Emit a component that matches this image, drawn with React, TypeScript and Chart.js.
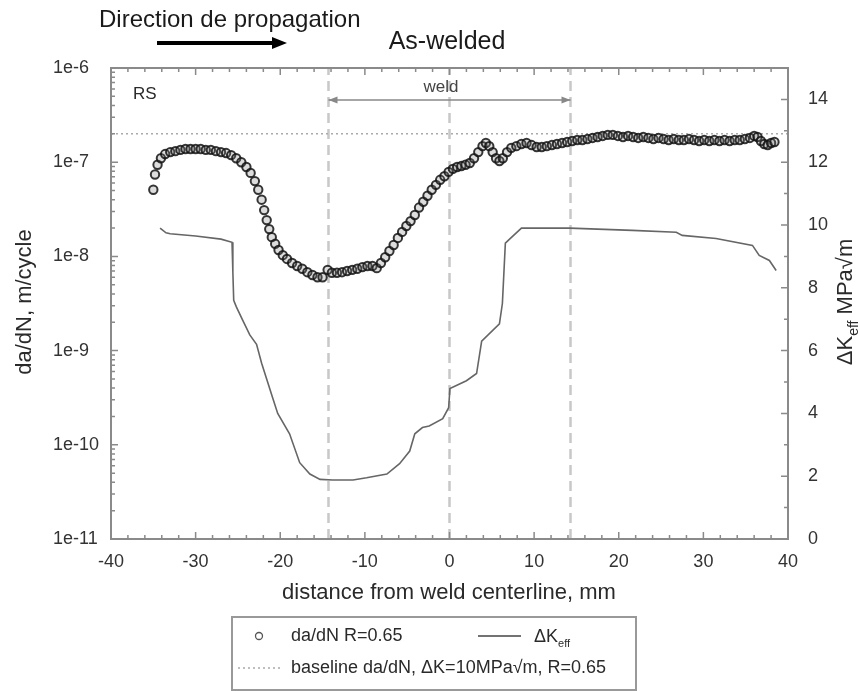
import React, { useEffect, useRef } from "react";
import { Chart, registerables } from "chart.js";
Chart.register(...registerables);

const FONT = "'Liberation Sans', Arial, Helvetica, sans-serif";

// x range / ticks
const X_MIN = -40;
const X_MAX = 40;
const xTicks = [-40, -30, -20, -10, 0, 10, 20, 30, 40];
const xTickLabels = ["-40", "-30", "-20", "-10", "0", "10", "20", "30", "40"];

// left (log) axis
const Y_MIN = 1e-11;
const Y_MAX = 1e-6;
const yTicks = [1e-11, 1e-10, 1e-9, 1e-8, 1e-7, 1e-6];
const yTickLabels = ["1e-11", "1e-10", "1e-9", "1e-8", "1e-7", "1e-6"];

// right axis
const Y1_MIN = 0;
const Y1_MAX = 15;
const y1Ticks = [0, 2, 4, 6, 8, 10, 12, 14];
const y1TickLabels = ["0", "2", "4", "6", "8", "10", "12", "14"];

// da/dN R=0.65 (circles)
const dadnX = [
  -35.0, -34.8, -34.5, -34.1, -33.6, -33.0, -32.4, -31.8, -31.2, -30.6, -30.0, -29.4, -28.8, -28.2, -27.6,
  -27.0, -26.4, -25.8, -25.2, -24.6, -24.0, -23.5, -23.0, -22.6, -22.2, -21.9, -21.6, -21.3, -21.0, -20.6,
  -20.2, -19.7, -19.2, -18.6, -18.0, -17.4, -16.8, -16.2, -15.6, -15.0, -14.4, -13.9, -13.3, -12.7, -12.1,
  -11.5, -10.9, -10.3, -9.7, -9.1, -8.6, -8.1, -7.6, -7.1, -6.6, -6.1, -5.6, -5.1, -4.6, -4.1,
  -3.6, -3.1, -2.6, -2.1, -1.6, -1.1, -0.6, -0.1, 0.4, 0.9, 1.4, 1.9, 2.4, 2.9, 3.4,
  3.9, 4.3, 4.7, 5.1, 5.5, 5.9, 6.3, 6.8, 7.3, 7.9, 8.5, 9.1, 9.7, 10.3, 10.9,
  11.5, 12.1, 12.7, 13.3, 13.9, 14.5, 15.1, 15.7, 16.3, 16.9, 17.5, 18.1, 18.7, 19.3, 19.9,
  20.5, 21.1, 21.7, 22.3, 22.9, 23.5, 24.1, 24.7, 25.3, 25.9, 26.5, 27.1, 27.7, 28.3, 28.9,
  29.5, 30.1, 30.7, 31.3, 31.9, 32.5, 33.1, 33.7, 34.3, 34.9, 35.5, 36.0, 36.4, 36.8, 37.2,
  37.6, 38.0, 38.4,
];
const dadnY = [
  5.1e-8, 7.4e-8, 9.4e-8, 1.1e-7, 1.22e-7, 1.28e-7, 1.31e-7, 1.35e-7, 1.38e-7, 1.38e-7, 1.38e-7, 1.38e-7, 1.35e-7, 1.35e-7, 1.31e-7,
  1.28e-7, 1.25e-7, 1.19e-7, 1.1e-7, 1.0e-7, 8.9e-8, 7.7e-8, 6.3e-8, 5.1e-8, 4.0e-8, 3.1e-8, 2.43e-8, 1.95e-8, 1.6e-8, 1.36e-8,
  1.17e-8, 1.03e-8, 9.4e-9, 8.5e-9, 7.9e-9, 7.4e-9, 6.8e-9, 6.35e-9, 6.0e-9, 6.0e-9, 7.2e-9, 6.7e-9, 6.7e-9, 6.8e-9, 7.0e-9,
  7.2e-9, 7.4e-9, 7.7e-9, 7.9e-9, 7.9e-9, 7.5e-9, 8.5e-9, 9.8e-9, 1.14e-8, 1.32e-8, 1.57e-8, 1.82e-8, 2.1e-8, 2.37e-8, 2.75e-8,
  3.3e-8, 3.8e-8, 4.4e-8, 5.1e-8, 5.75e-8, 6.5e-8, 7.1e-8, 7.9e-8, 8.5e-8, 8.9e-8, 9.1e-8, 9.4e-8, 9.8e-8, 1.1e-7, 1.28e-7,
  1.48e-7, 1.6e-7, 1.48e-7, 1.28e-7, 1.1e-7, 1.03e-7, 1.1e-7, 1.28e-7, 1.42e-7, 1.48e-7, 1.56e-7, 1.6e-7, 1.52e-7, 1.45e-7, 1.45e-7,
  1.48e-7, 1.52e-7, 1.56e-7, 1.6e-7, 1.64e-7, 1.68e-7, 1.72e-7, 1.72e-7, 1.76e-7, 1.81e-7, 1.85e-7, 1.9e-7, 1.95e-7, 1.95e-7, 1.9e-7,
  1.85e-7, 1.9e-7, 1.85e-7, 1.81e-7, 1.85e-7, 1.81e-7, 1.76e-7, 1.81e-7, 1.76e-7, 1.72e-7, 1.76e-7, 1.72e-7, 1.72e-7, 1.76e-7, 1.72e-7,
  1.68e-7, 1.72e-7, 1.68e-7, 1.72e-7, 1.68e-7, 1.72e-7, 1.68e-7, 1.72e-7, 1.72e-7, 1.76e-7, 1.81e-7, 1.9e-7, 1.85e-7, 1.68e-7, 1.56e-7,
  1.52e-7, 1.6e-7, 1.64e-7,
];

// ΔK_eff (line, right axis)
const dkX = [
  -34.2, -33.5, -33.0, -30.0, -27.0, -25.7, -25.6, -25.5, -25.2, -24.5, -23.6, -22.8, -22.2, -20.9, -20.3,
  -18.9, -17.7, -16.5, -15.3, -13.8, -11.4, -9.8, -7.4, -5.9, -4.7, -4.1, -3.2, -2.4, -0.8, -0.1,
  0.05, 2.0, 3.2, 3.8, 5.9, 6.25, 6.6, 7.1, 8.5, 14.2, 21.6, 26.8, 27.5, 31.5, 35.8,
  36.6, 37.8, 38.6,
];
const dkY = [
  9.9, 9.75, 9.72, 9.65, 9.55, 9.45, 8.5, 7.6, 7.4, 7.0, 6.5, 6.2, 5.6, 4.5, 4.0,
  3.35, 2.43, 2.07, 1.9, 1.88, 1.88, 1.95, 2.07, 2.4, 2.8, 3.35, 3.55, 3.6, 3.83, 4.18,
  4.79, 5.04, 5.27, 6.3, 6.85, 7.5, 9.42, 9.55, 9.9, 9.9, 9.83, 9.77, 9.67, 9.57, 9.35,
  9.03, 8.87, 8.55,
];

// baseline da/dN at ΔK=10 MPa√m
const baselineDadn = 2e-7;
// weld boundaries and centreline
const weldLines = [-14.3, 0, 14.3];
const weldStart = -14.3;
const weldEnd = 14.3;

const AXIS = "#8a8a8a";
const TEXT = "#2a2a2a";

function drawSubText(
  ctx: CanvasRenderingContext2D,
  parts: { t: string; sub?: boolean }[],
  x: number,
  y: number,
  size: number,
  align: "left" | "center"
) {
  const subSize = Math.round(size * 0.62);
  let w = 0;
  for (const p of parts) {
    ctx.font = `${p.sub ? subSize : size}px ${FONT}`;
    w += ctx.measureText(p.t).width;
  }
  let cx = align === "center" ? x - w / 2 : x;
  ctx.textAlign = "left";
  ctx.textBaseline = "alphabetic";
  for (const p of parts) {
    ctx.font = `${p.sub ? subSize : size}px ${FONT}`;
    ctx.fillText(p.t, cx, y + (p.sub ? size * 0.28 : 0));
    cx += ctx.measureText(p.t).width;
  }
}

const overlayPlugin = {
  id: "overlay",
  afterDraw(chart: any) {
    const ctx: CanvasRenderingContext2D = chart.ctx;
    const { left, right, top, bottom } = chart.chartArea;
    const xs = chart.scales.x;
    const ys = chart.scales.y;
    const y1 = chart.scales.y1;
    ctx.save();

    // frame
    ctx.strokeStyle = AXIS;
    ctx.lineWidth = 2;
    ctx.setLineDash([]);
    ctx.strokeRect(left, top, right - left, bottom - top);

    // inward ticks
    ctx.lineWidth = 1.5;
    ctx.beginPath();
    for (let v = X_MIN; v <= X_MAX; v += 2) {
      const px = xs.getPixelForValue(v);
      const len = v % 10 === 0 ? 7 : 4;
      ctx.moveTo(px, bottom);
      ctx.lineTo(px, bottom - len);
      ctx.moveTo(px, top);
      ctx.lineTo(px, top + len);
    }
    for (let e = -11; e <= -6; e++) {
      for (let m = 1; m <= 9; m++) {
        if (e === -6 && m > 1) break;
        const py = ys.getPixelForValue(m * Math.pow(10, e));
        const len = m === 1 ? 7 : 4;
        ctx.moveTo(left, py);
        ctx.lineTo(left + len, py);
      }
    }
    for (let v = Y1_MIN; v <= Y1_MAX; v++) {
      const py = y1.getPixelForValue(v);
      const len = v % 2 === 0 ? 7 : 4;
      ctx.moveTo(right, py);
      ctx.lineTo(right - len, py);
    }
    ctx.stroke();

    // weld arrow
    const xa = xs.getPixelForValue(weldStart);
    const xb = xs.getPixelForValue(weldEnd);
    const ya = top + 32;
    ctx.strokeStyle = "#888";
    ctx.fillStyle = "#888";
    ctx.lineWidth = 1.5;
    ctx.beginPath();
    ctx.moveTo(xa, ya);
    ctx.lineTo(xb, ya);
    ctx.stroke();
    ctx.beginPath();
    ctx.moveTo(xa, ya);
    ctx.lineTo(xa + 9, ya - 3.5);
    ctx.lineTo(xa + 9, ya + 3.5);
    ctx.closePath();
    ctx.fill();
    ctx.beginPath();
    ctx.moveTo(xb, ya);
    ctx.lineTo(xb - 9, ya - 3.5);
    ctx.lineTo(xb - 9, ya + 3.5);
    ctx.closePath();
    ctx.fill();

    ctx.fillStyle = "#444";
    ctx.font = `17px ${FONT}`;
    ctx.textAlign = "center";
    ctx.textBaseline = "middle";
    ctx.fillText("weld", xs.getPixelForValue(-1), top + 19);

    // RS
    ctx.fillStyle = TEXT;
    ctx.textAlign = "left";
    ctx.font = `17px ${FONT}`;
    ctx.fillText("RS", left + 22, top + 26);

    // headings
    ctx.fillStyle = "#1a1a1a";
    ctx.font = `24px ${FONT}`;
    ctx.textAlign = "left";
    ctx.fillText("Direction de propagation", 99, 20);
    ctx.textAlign = "center";
    ctx.font = `25px ${FONT}`;
    ctx.fillText("As-welded", 447, 42);

    // direction arrow
    ctx.strokeStyle = "#000";
    ctx.fillStyle = "#000";
    ctx.lineWidth = 4;
    ctx.beginPath();
    ctx.moveTo(157, 43);
    ctx.lineTo(274, 43);
    ctx.stroke();
    ctx.beginPath();
    ctx.moveTo(272, 37);
    ctx.lineTo(287, 43);
    ctx.lineTo(272, 49);
    ctx.closePath();
    ctx.fill();

    // axis titles
    ctx.fillStyle = TEXT;
    ctx.font = `22px ${FONT}`;
    ctx.textAlign = "center";
    ctx.textBaseline = "middle";
    ctx.fillText("distance from weld centerline, mm", 449, 593);

    ctx.save();
    ctx.translate(25, 302);
    ctx.rotate(-Math.PI / 2);
    ctx.fillText("da/dN, m/cycle", 0, 0);
    ctx.restore();

    ctx.save();
    ctx.translate(852, 302);
    ctx.rotate(-Math.PI / 2);
    drawSubText(ctx, [{ t: "ΔK" }, { t: "eff", sub: true }, { t: " MPa√m" }], 0, 0, 22, "center");
    ctx.restore();

    // legend
    ctx.strokeStyle = "#999";
    ctx.lineWidth = 2;
    ctx.setLineDash([]);
    ctx.strokeRect(232, 617, 404, 73);
    const r1 = 636;
    const r2 = 668;
    ctx.strokeStyle = "#555";
    ctx.lineWidth = 1.3;
    ctx.beginPath();
    ctx.arc(259, r1, 3.5, 0, Math.PI * 2);
    ctx.stroke();
    ctx.fillStyle = TEXT;
    ctx.font = `18px ${FONT}`;
    ctx.textAlign = "left";
    ctx.textBaseline = "middle";
    ctx.fillText("da/dN R=0.65", 291, r1);
    ctx.strokeStyle = "#444";
    ctx.lineWidth = 1.6;
    ctx.beginPath();
    ctx.moveTo(478, r1);
    ctx.lineTo(521, r1);
    ctx.stroke();
    drawSubText(ctx, [{ t: "ΔK" }, { t: "eff", sub: true }], 534, r1 + 6, 18, "left");
    ctx.strokeStyle = "#aaa";
    ctx.lineWidth = 1.5;
    ctx.setLineDash([2, 3]);
    ctx.beginPath();
    ctx.moveTo(238, r2);
    ctx.lineTo(282, r2);
    ctx.stroke();
    ctx.setLineDash([]);
    ctx.fillStyle = TEXT;
    ctx.font = `18px ${FONT}`;
    ctx.textBaseline = "middle";
    ctx.fillText("baseline da/dN, ΔK=10MPa√m, R=0.65", 291, r2);

    ctx.restore();
  },
};

export default function App() {
  const ref = useRef<HTMLCanvasElement>(null);
  useEffect(() => {
    const vLines = weldLines.map((x) => ({
      label: "weld-line",
      data: [
        { x, y: Y_MIN },
        { x, y: Y_MAX },
      ],
      yAxisID: "y",
      showLine: true,
      borderColor: "#c8c8c8",
      borderWidth: 2.5,
      borderDash: [10, 6],
      pointRadius: 0,
    }));
    const chart = new Chart(ref.current as HTMLCanvasElement, {
      type: "scatter",
      data: {
        datasets: [
          {
            label: "da/dN R=0.65",
            data: dadnX.map((x, i) => ({ x, y: dadnY[i] })),
            yAxisID: "y",
            showLine: false,
            pointStyle: "circle",
            pointRadius: 4.2,
            pointBorderWidth: 2,
            pointBorderColor: "rgba(20,20,20,0.85)",
            pointBackgroundColor: "rgba(120,120,120,0.25)",
          },
          {
            label: "ΔKeff",
            data: dkX.map((x, i) => ({ x, y: dkY[i] })),
            yAxisID: "y1",
            showLine: true,
            borderColor: "#666",
            borderWidth: 1.6,
            pointRadius: 0,
            tension: 0,
          },
          {
            label: "baseline",
            data: [
              { x: X_MIN, y: baselineDadn },
              { x: X_MAX, y: baselineDadn },
            ],
            yAxisID: "y",
            showLine: true,
            borderColor: "#aaa",
            borderWidth: 1.5,
            borderDash: [2, 3],
            pointRadius: 0,
          },
          ...vLines,
        ] as any,
      },
      options: {
        animation: false,
        responsive: false,
        events: [],
        layout: { padding: { left: 53, top: 68, right: 0, bottom: 0 } },
        plugins: { legend: { display: false }, tooltip: { enabled: false } },
        scales: {
          x: {
            type: "linear",
            position: "bottom",
            min: X_MIN,
            max: X_MAX,
            grid: { display: false, drawTicks: false },
            border: { display: false },
            afterBuildTicks: (s: any) => {
              s.ticks = xTicks.map((v) => ({ value: v }));
            },
            afterFit: (s: any) => {
              s.height = 152;
            },
            ticks: {
              font: { family: FONT, size: 18 },
              color: "#333",
              padding: 12,
              maxRotation: 0,
              autoSkip: false,
              callback: (_v: any, i: number) => xTickLabels[i],
            },
          },
          y: {
            type: "logarithmic",
            position: "left",
            min: Y_MIN,
            max: Y_MAX,
            grid: { display: false, drawTicks: false },
            border: { display: false },
            afterBuildTicks: (s: any) => {
              s.ticks = yTicks.map((v) => ({ value: v }));
            },
            afterFit: (s: any) => {
              s.width = 58;
            },
            ticks: {
              crossAlign: "far",
              font: { family: FONT, size: 18 },
              color: "#333",
              autoSkip: false,
              callback: (_v: any, i: number) => yTickLabels[i],
            },
          },
          y1: {
            type: "linear",
            position: "right",
            min: Y1_MIN,
            max: Y1_MAX,
            grid: { display: false, drawTicks: false },
            border: { display: false },
            afterBuildTicks: (s: any) => {
              s.ticks = y1Ticks.map((v) => ({ value: v }));
            },
            afterFit: (s: any) => {
              s.width = 70;
            },
            ticks: {
              font: { family: FONT, size: 18 },
              color: "#333",
              padding: 20,
              autoSkip: false,
              callback: (_v: any, i: number) => y1TickLabels[i],
            },
          },
        },
      } as any,
      plugins: [overlayPlugin],
    });
    return () => chart.destroy();
  }, []);
  return (
    <div style={{ position: "fixed", left: 0, top: 0, width: 858, height: 691, background: "#fff" }}>
      <canvas ref={ref} width={858} height={691} style={{ display: "block" }} />
    </div>
  );
}
